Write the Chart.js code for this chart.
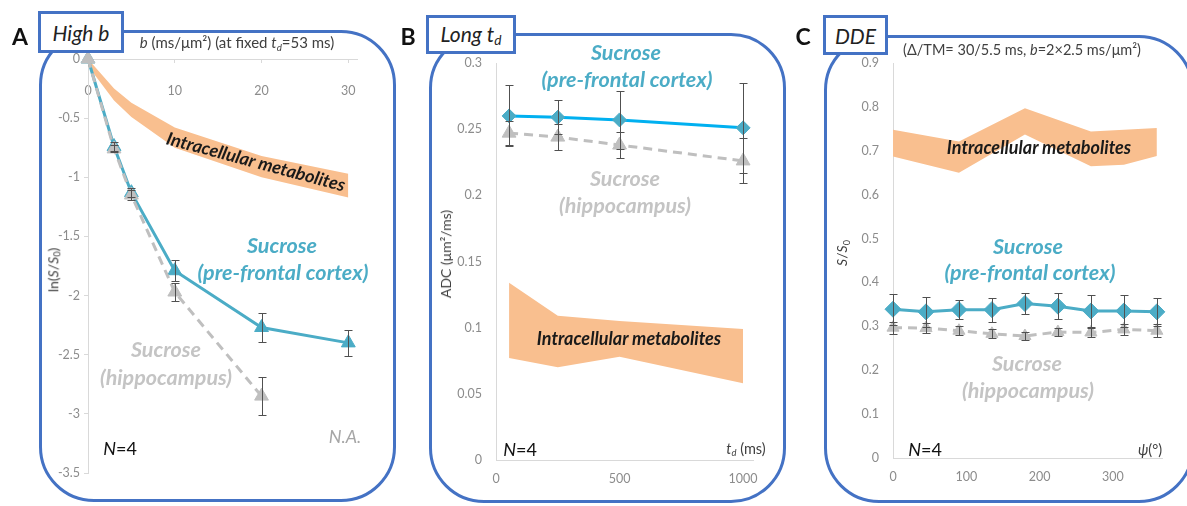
<!DOCTYPE html>
<html>
<head>
<meta charset="utf-8">
<script src="https://cdn.jsdelivr.net/npm/chart.js@4.4.1/dist/chart.umd.min.js"></script>
<style>
  body { margin: 0; width: 1187px; height: 506px; overflow: hidden; background: #fff; position: relative; font-family: Lato, 'Open Sans', sans-serif; }
  canvas { position: absolute; top: 0; }
  .panel { position: absolute; border: 3px solid #4472C4; border-radius: 55px; box-sizing: border-box; }
  .tag { position: absolute; border: 3px solid #4472C4; background: #fff; box-sizing: border-box; font-style: italic; font-size: 21px; color: #222; display: flex; align-items: center; justify-content: center; }
  .letter { position: absolute; font-weight: bold; font-size: 23px; color: #111; transform: translate(-50%, -50%); }
  .t { position: absolute; transform: translate(-50%, -50%); white-space: nowrap; line-height: 1; }
  .teal { color: #4BACC6; font-weight: bold; font-style: italic; font-size: 21.5px; }
  .grey { color: #C4C4C4; font-weight: bold; font-style: italic; font-size: 21.5px; }
  .metab { color: #1a1a1a; font-weight: bold; font-style: italic; font-size: 18px; }
  .n4 { color: #111; font-size: 18px; }
  .ax { color: #404040; font-size: 15px; }
  .rot { transform: translate(-50%, -50%) rotate(-90deg); }
  sub.s { font-size: 0.65em; vertical-align: -0.25em; }
</style>
</head>
<body>
<div class="panel" style="left:39px;top:30px;width:357px;height:472px"></div>
<div class="panel" style="left:429px;top:33px;width:357px;height:470px"></div>
<div class="panel" style="left:824px;top:35px;width:370px;height:468px"></div>

<canvas id="chartA" width="400" height="506" style="left:0"></canvas>
<canvas id="chartB" width="400" height="506" style="left:400px"></canvas>
<canvas id="chartC" width="387" height="506" style="left:800px"></canvas>

<div class="tag" style="left:38px;top:11px;width:86px;height:42px">High&nbsp;b</div>
<div class="tag" style="left:426px;top:15px;width:90px;height:39px"><span>Long&nbsp;t<sub class="s">d</sub></span></div>
<div class="tag" style="left:823px;top:15px;width:65px;height:40px">DDE</div>
<div class="letter" style="left:20px;top:36px">A</div>
<div class="letter" style="left:408px;top:36px">B</div>
<div class="letter" style="left:803px;top:36px">C</div>

<!-- panel A texts -->
<div class="t ax" style="left:237px;top:44px"><i>b</i> (ms/μm²) (at fixed <i>t<sub class="s">d</sub></i>=53 ms)</div>
<div class="t ax rot" style="left:54px;top:270px;font-size:14px">ln(<i>S</i>/<i>S</i><sub class="s">0</sub>)</div>
<div class="t metab" style="left:256px;top:161px;transform:translate(-50%,-50%) rotate(15deg)">Intracellular metabolites</div>
<div class="t teal" style="left:282px;top:246px">Sucrose</div>
<div class="t teal" style="left:283px;top:273px">(pre-frontal cortex)</div>
<div class="t grey" style="left:166px;top:350px">Sucrose</div>
<div class="t grey" style="left:166px;top:378px">(hippocampus)</div>
<div class="t n4" style="left:120px;top:448px"><i>N</i>=4</div>
<div class="t" style="left:345px;top:436px;color:#a6a6a6;font-style:italic;font-size:18px">N.A.</div>

<!-- panel B texts -->
<div class="t ax rot" style="left:446px;top:254px;font-size:14px">ADC (μm²/ms)</div>
<div class="t teal" style="left:626px;top:53px">Sucrose</div>
<div class="t teal" style="left:627px;top:80px">(pre-frontal cortex)</div>
<div class="t grey" style="left:625px;top:179px">Sucrose</div>
<div class="t grey" style="left:625px;top:206px">(hippocampus)</div>
<div class="t metab" style="left:629px;top:338px">Intracellular metabolites</div>
<div class="t n4" style="left:520px;top:449px"><i>N</i>=4</div>
<div class="t ax" style="left:746px;top:450px;font-size:14.5px"><i>t<sub class="s">d</sub></i> (ms)</div>

<!-- panel C texts -->
<div class="t ax" style="left:1022px;top:50px;font-size:14.5px">(Δ/TM= 30/5.5 ms, <i>b</i>=2×2.5 ms/μm²)</div>
<div class="t ax rot" style="left:843px;top:253px;font-size:14px"><i>S</i>/<i>S</i><sub class="s">0</sub></div>
<div class="t metab" style="left:1039px;top:147px">Intracellular metabolites</div>
<div class="t teal" style="left:1028px;top:247px">Sucrose</div>
<div class="t teal" style="left:1030px;top:273px">(pre-frontal cortex)</div>
<div class="t grey" style="left:1027px;top:364px">Sucrose</div>
<div class="t grey" style="left:1028px;top:391px">(hippocampus)</div>
<div class="t n4" style="left:925px;top:449px"><i>N</i>=4</div>
<div class="t ax" style="left:1150px;top:450px;font-size:14.5px"><i>ψ</i>(°)</div>

<script>
// A: high b
const bValues = [0, 3, 5, 10, 20, 30]
const bTicks = [0, 10, 20, 30]
const lnPfc = [0, -0.74, -1.13, -1.79, -2.27, -2.40]
const lnPfcErr = [0, 0.04, 0.04, 0.09, 0.12, 0.11]
const lnHippo = [0, -0.76, -1.15, -1.97, -2.85] // b=30 not acquired (N.A.)
const lnHippoErr = [0, 0.03, 0.04, 0.08, 0.16]
const lnMetabUpper = [0, -0.25, -0.37, -0.58, -0.82, -0.97]
const lnMetabLower = [-0.06, -0.35, -0.49, -0.75, -1.0, -1.17]

// B: long td
const tdValues = [53, 250, 500, 1000]
const tdTicks = [0, 500, 1000]
const adcPfc = [0.260, 0.259, 0.257, 0.251]
const adcPfcErr = [0.023, 0.013, 0.022, 0.034]
const adcHippo = [0.247, 0.244, 0.238, 0.226]
const adcHippoErr = [0.009, 0.010, 0.010, 0.017]
const adcMetabUpper = [0.134, 0.109, 0.105, 0.099]
const adcMetabLower = [0.077, 0.070, 0.078, 0.058]

// C: DDE
const psiValues = [0, 45, 90, 135, 180, 225, 270, 315, 360]
const psiTicks = [0, 100, 200, 300]
const ssPfc = [0.339, 0.333, 0.338, 0.338, 0.352, 0.346, 0.335, 0.335, 0.333]
const ssPfcErr = [0.035, 0.034, 0.022, 0.027, 0.025, 0.029, 0.036, 0.036, 0.032]
const ssHippo = [0.297, 0.296, 0.290, 0.283, 0.278, 0.287, 0.286, 0.293, 0.290]
const ssHippoErr = [0.014, 0.012, 0.010, 0.010, 0.010, 0.010, 0.010, 0.012, 0.015]
const psiMetab = [0, 90, 180, 270, 315, 360]
const ssMetabUpper = [0.748, 0.721, 0.797, 0.744, 0.748, 0.752]
const ssMetabLower = [0.687, 0.650, 0.737, 0.665, 0.668, 0.688]

const TEAL = '#4BACC6'
const GREY = '#BFBFBF'
const BAND = '#F9BF8F'
const AXIS = '#D9D9D9'
const TICK_FONT = { family: 'Lato', size: 12.5 }

const pts = (xs, ys) => ys.map((y, i) => ({ x: xs[i], y }))

const errorBars = {
  id: 'errorBars',
  afterDatasetsDraw(chart) {
    const ctx = chart.ctx
    chart.data.datasets.forEach((ds, i) => {
      if (!ds.errors) return
      const meta = chart.getDatasetMeta(i)
      const yScale = chart.scales[meta.yAxisID]
      ctx.save()
      ctx.strokeStyle = '#505050'
      ctx.lineWidth = 1
      meta.data.forEach((pt, j) => {
        const err = ds.errors[j]
        if (!err) return
        const v = ds.data[j].y
        const top = Math.round(yScale.getPixelForValue(v + err)) + 0.5
        const bot = Math.round(yScale.getPixelForValue(v - err)) + 0.5
        const x = Math.round(pt.x) + 0.5
        ctx.beginPath()
        ctx.moveTo(x, top); ctx.lineTo(x, bot)
        ctx.moveTo(x - 4, top); ctx.lineTo(x + 4, top)
        ctx.moveTo(x - 4, bot); ctx.lineTo(x + 4, bot)
        ctx.stroke()
      })
      ctx.restore()
    })
  }
}

function seriesLine(data, errors, color, markerColor, style, radius, dashed, order) {
  return {
    data, errors, order,
    borderColor: color,
    borderWidth: 3,
    borderDash: dashed ? [9, 6] : [],
    pointStyle: style,
    pointRadius: radius,
    pointBackgroundColor: markerColor,
    pointBorderColor: markerColor,
    pointBorderWidth: 1,
    tension: 0,
    clip: false
  }
}

function bandPair(xs, upper, lower) {
  return [
    { data: pts(xs, upper), fill: '+1', backgroundColor: BAND, borderWidth: 0, pointRadius: 0, order: 5 },
    { data: pts(xs, lower), fill: false, borderWidth: 0, pointRadius: 0, order: 6 }
  ]
}

// x axes only label the round values listed above
const useTicks = (values) => (scale) => { scale.ticks = values.map((value) => ({ value })) }

const short = (v) => String(+(+v).toFixed(2))

const baseOptions = {
  responsive: false,
  animation: false,
  events: [],
  plugins: { legend: { display: false }, tooltip: { enabled: false } }
}

// Panel A - the b axis sits on top, its numbers hang just under the line
new Chart(document.getElementById('chartA'), {
  type: 'line',
  data: {
    datasets: [
      seriesLine(pts(bValues, lnHippo), lnHippoErr, GREY, GREY, 'triangle', 8, true, 1),
      seriesLine(pts(bValues, lnPfc), lnPfcErr, TEAL, TEAL, 'triangle', 8, false, 2),
      ...bandPair(bValues, lnMetabUpper, lnMetabLower)
    ]
  },
  options: {
    ...baseOptions,
    layout: { padding: { left: 48, right: 43, top: 39, bottom: 33 } },
    scales: {
      x: {
        type: 'linear', position: 'top', min: 0, max: 31,
        afterBuildTicks: useTicks(bTicks),
        afterFit: (s) => { s.height = 20 },
        grid: { drawOnChartArea: false, tickLength: -4, color: AXIS },
        border: { color: AXIS },
        ticks: { autoSkip: false, mirror: true, padding: 24, color: '#8c8c8c', font: TICK_FONT, maxRotation: 0, callback: (v) => String(v) }
      },
      y: {
        min: -3.5, max: 0,
        afterFit: (s) => { s.width = 40 },
        grid: { drawOnChartArea: false, tickLength: 4, color: AXIS },
        border: { color: AXIS },
        ticks: { stepSize: 0.5, padding: 4, color: '#8c8c8c', font: TICK_FONT, callback: short }
      }
    }
  },
  plugins: [errorBars]
})

// Panel B
new Chart(document.getElementById('chartB'), {
  type: 'line',
  data: {
    datasets: [
      seriesLine(pts(tdValues, adcPfc), adcPfcErr, '#00B0F0', TEAL, 'rectRot', 7, false, 1),
      seriesLine(pts(tdValues, adcHippo), adcHippoErr, GREY, GREY, 'triangle', 8, true, 2),
      ...bandPair(tdValues, adcMetabUpper, adcMetabLower)
    ]
  },
  options: {
    ...baseOptions,
    layout: { padding: { left: 56, right: 47, top: 63, bottom: 16 } },
    scales: {
      x: {
        type: 'linear', min: 0, max: 1040,
        afterBuildTicks: useTicks(tdTicks),
        afterFit: (s) => { s.height = 30 },
        grid: { drawOnChartArea: false, drawTicks: false, color: AXIS },
        border: { color: AXIS },
        ticks: { autoSkip: false, padding: 11, color: '#8c8c8c', font: TICK_FONT, maxRotation: 0, callback: (v) => String(v) }
      },
      y: {
        min: 0, max: 0.3,
        afterFit: (s) => { s.width = 40 },
        grid: { drawOnChartArea: false, drawTicks: false, color: AXIS },
        border: { color: AXIS },
        ticks: { stepSize: 0.05, padding: 14, color: '#8c8c8c', font: TICK_FONT, callback: short }
      }
    }
  },
  plugins: [errorBars]
})

// Panel C
new Chart(document.getElementById('chartC'), {
  type: 'line',
  data: {
    datasets: [
      seriesLine(pts(psiValues, ssPfc), ssPfcErr, TEAL, TEAL, 'rectRot', 8, false, 1),
      seriesLine(pts(psiValues, ssHippo), ssHippoErr, GREY, GREY, 'triangle', 7, true, 2),
      ...bandPair(psiMetab, ssMetabUpper, ssMetabLower)
    ]
  },
  options: {
    ...baseOptions,
    layout: { padding: { left: 53, right: 25, top: 63, bottom: 18 } },
    scales: {
      x: {
        type: 'linear', min: 0, max: 367,
        afterBuildTicks: useTicks(psiTicks),
        afterFit: (s) => { s.height = 30 },
        grid: { drawOnChartArea: false, drawTicks: false, color: AXIS },
        border: { color: AXIS },
        ticks: { autoSkip: false, padding: 11, color: '#8c8c8c', font: TICK_FONT, maxRotation: 0, callback: (v) => String(v) }
      },
      y: {
        min: 0, max: 0.9,
        afterFit: (s) => { s.width = 40 },
        grid: { drawOnChartArea: false, drawTicks: false, color: AXIS },
        border: { color: AXIS },
        ticks: { stepSize: 0.1, padding: 14, color: '#8c8c8c', font: TICK_FONT, callback: short }
      }
    }
  },
  plugins: [errorBars]
})
</script>
</body>
</html>
